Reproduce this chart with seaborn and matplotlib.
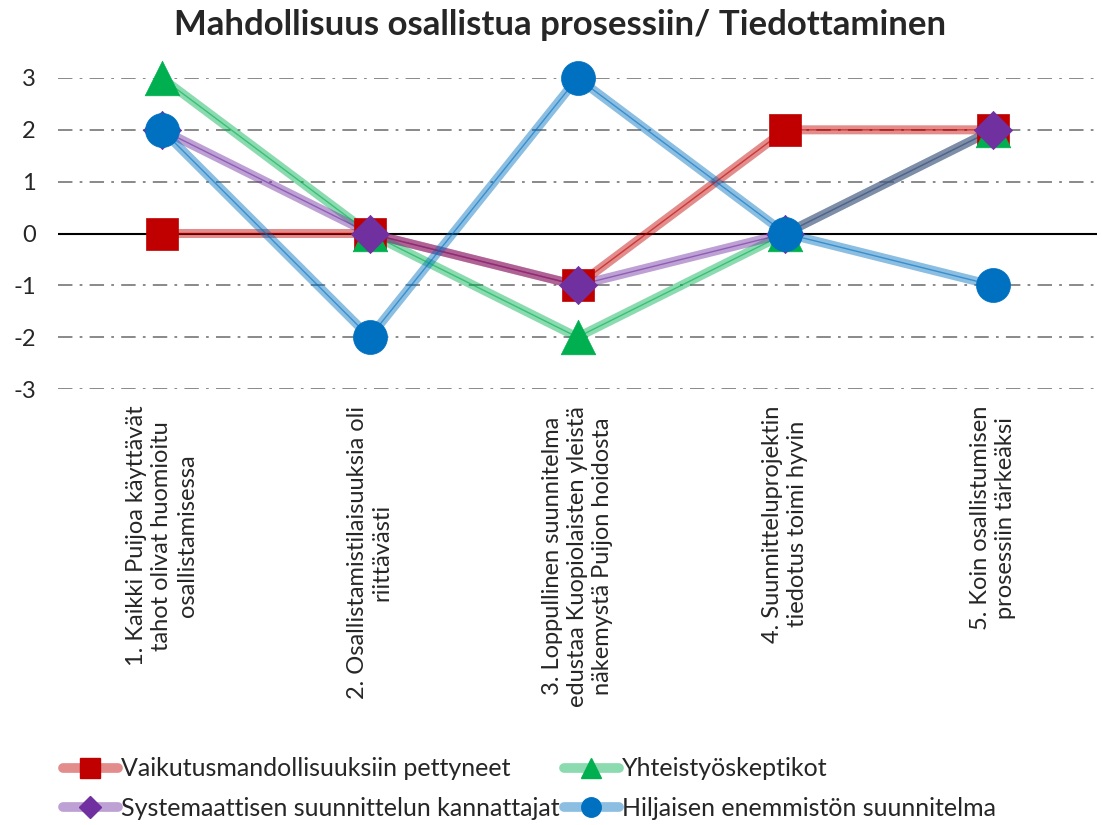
import matplotlib
matplotlib.use("Agg")
import matplotlib.pyplot as plt
from matplotlib.lines import Line2D
from matplotlib.ticker import FuncFormatter
import seaborn as sns
import pandas as pd

# Kysymykset (x-akseli)
categories = [
    "1. Kaikki Puijoa käyttävät\ntahot olivat huomioitu\nosallistamisessa",
    "2. Osallistamistilaisuuksia oli\nriittävästi",
    "3. Loppullinen suunnitelma\nedustaa Kuopiolaisten yleistä\nnäkemystä Puijon hoidosta",
    "4. Suunnitteluprojektin\ntiedotus toimi hyvin",
    "5. Koin osallistumisen\nprosessiin tärkeäksi",
]

groups = [
    "Vaikutusmandollisuuksiin pettyneet",
    "Yhteistyöskeptikot",
    "Systemaattisen suunnittelun kannattajat",
    "Hiljaisen enemmistön suunnitelma",
]

pettyneet = [0, 0, -1, 2, 2]
skeptikot = [3, 0, -2, 0, 2]
systemaattiset = [2, 0, -1, 0, 2]
hiljainen = [2, -2, 3, 0, -1]

colors = ["#c00000", "#00b050", "#7030a0", "#0070c0"]
markers = ["s", "^", "D", "o"]
msizes = [560, 620, 380, 600]

rows = []
for g, vals in zip(groups, [pettyneet, skeptikot, systemaattiset, hiljainen]):
    for c, v in zip(categories, vals):
        rows.append({"Kysymys": c, "Arvo": v, "Ryhmä": g})
df = pd.DataFrame(rows)

sns.set_style("white")
plt.rcParams["font.family"] = ["Lato", "DejaVu Sans"]

fig = plt.figure(figsize=(11.02, 8.25), dpi=100)
ax = fig.add_axes([58 / 1102, 1 - 389 / 825, (1097 - 58) / 1102, (389 - 78) / 825])

# gridlines
for y in [-3, -2, -1, 1, 2, 3]:
    ax.axhline(y, color="#808080", lw=1.3, ls=(0, (8, 4, 1.5, 4)), zorder=0)
ax.axhline(0, color="black", lw=1.5, zorder=1)

palette = dict(zip(groups, colors))

# paksut läpikuultavat viivat
sns.lineplot(data=df, x="Kysymys", y="Arvo", hue="Ryhmä", palette=palette,
             lw=6.5, alpha=0.45, legend=False, ax=ax, sort=False, zorder=2)
sns.lineplot(data=df, x="Kysymys", y="Arvo", hue="Ryhmä", palette=palette,
             lw=1, alpha=0.6, legend=False, ax=ax, sort=False, zorder=2)

# merkit
for i, g in enumerate(groups):
    sub = df[df["Ryhmä"] == g]
    sns.scatterplot(data=sub, x="Kysymys", y="Arvo", color=colors[i], marker=markers[i],
                    s=msizes[i], edgecolor=colors[i], linewidth=0.5, legend=False,
                    ax=ax, zorder=3 + i, clip_on=False)

ax.set_xlim(-0.5, 4.5)
ax.set_ylim(-3, 3)
ax.set_yticks(range(-3, 4))
ax.yaxis.set_major_formatter(FuncFormatter(lambda v, p: str(int(v))))
ax.tick_params(axis="y", labelsize=17, length=0, pad=16)
ax.tick_params(axis="x", length=0, pad=12)
for lab in ax.get_xticklabels():
    lab.set_rotation(90)
    lab.set_fontsize(17)
    lab.set_ha("center")
    lab.set_va("top")
    lab.set_multialignment("center")
    lab.set_linespacing(1.25)
ax.set_xlabel("")
ax.set_ylabel("")
for s in ax.spines.values():
    s.set_visible(False)

fig.text(0.508, 1 - 25 / 825, "Mahdollisuus osallistua prosessiin/ Tiedottaminen",
         ha="center", va="center", fontsize=25, fontweight="bold")

handles = [
    (Line2D([0], [0], color=colors[i], lw=7, alpha=0.45),
     Line2D([0], [0], color=colors[i], marker=markers[i], ls="", markersize=14 if i != 2 else 11))
    for i in range(4)
]
# matplotlib täyttää sarakkeittain -> järjestys rivien mukaan
order = [0, 2, 1, 3]
fig.legend([handles[i] for i in order], [groups[i] for i in order],
           loc="upper left", bbox_to_anchor=(40 / 1102, 1 - 735 / 825),
           ncol=2, frameon=False, fontsize=18, handlelength=2.2, handletextpad=0.15,
           columnspacing=0.15, labelspacing=0.65)

fig.savefig("out.png", dpi=100)
